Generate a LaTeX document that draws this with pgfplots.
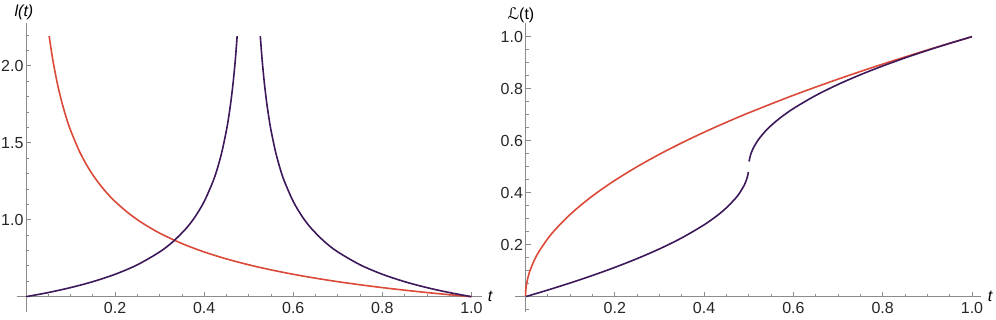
\documentclass[border=0pt]{standalone}
\usepackage{fontspec}
\setmainfont{Liberation Sans}
\newfontfamily\dejavu{DejaVu Sans}
\usepackage{pgfplots}
\pgfplotsset{compat=1.18}

\definecolor{redc}{rgb}{0.86,0.29,0.22}
\definecolor{purp}{rgb}{0.24,0.10,0.36}
\definecolor{axc}{rgb}{0.55,0.55,0.55}

\pgfplotsset{
  mma/.style={
    scale only axis,
    clip=false,
    axis x line=bottom,
    axis y line=left,
    axis line style={axc,-,line width=0.8pt},
    tick align=inside,
    major tick length=5pt,
    minor tick length=3pt,
    every tick/.style={axc,line width=0.8pt},
    tick label style={font=\fontsize{16}{19}\selectfont, text=black!85},
    xticklabel style={yshift=-2pt},
    yticklabel style={xshift=1pt},
    xtick={0.2,0.4,0.6,0.8,1.0},
    xticklabels={0.2,0.4,0.6,0.8,1.0},
    minor xtick={0.05,0.1,0.15,0.25,0.3,0.35,0.45,0.5,0.55,0.65,0.7,0.75,0.85,0.9,0.95},
    every axis plot/.append style={line width=1.6pt},
  }
}

\begin{document}
\begin{tikzpicture}
\useasboundingbox (0,0) rectangle (996pt,320pt);

% left: l(t)
\begin{axis}[mma,
  at={(26pt,23.3pt)}, anchor=south west,
  width=455.7pt, height=274.1pt,
  xmin=0, xmax=1.023, ymin=0.5, ymax=2.28,
  ytick={1.0,1.5,2.0}, yticklabels={1.0,1.5,2.0},
  minor ytick={0.6,0.7,0.8,0.9,1.1,1.2,1.3,1.4,1.6,1.7,1.8,1.9,2.1,2.2},
]
\addplot[redc,smooth] coordinates {
(0.052,2.1926) (0.06,2.0412) (0.07,1.8898) (0.08,1.7678) (0.09,1.6667)
(0.10,1.5811) (0.12,1.4434) (0.14,1.3363) (0.16,1.25) (0.18,1.1785)
(0.20,1.1180) (0.23,1.0426) (0.26,0.9806) (0.30,0.9129) (0.35,0.8452)
(0.40,0.7906) (0.45,0.7454) (0.50,0.7071) (0.55,0.6742) (0.60,0.6455)
(0.65,0.6202) (0.70,0.5976) (0.75,0.5774) (0.80,0.5590) (0.85,0.5423)
(0.90,0.5270) (0.95,0.5130) (1.00,0.5)
};
\addplot[purp,smooth] coordinates {
(0,0.5) (0.05,0.5270) (0.10,0.5590) (0.15,0.5976) (0.20,0.6455)
(0.25,0.7071) (0.30,0.7906) (0.33,0.8575) (0.36,0.9449) (0.38,1.0206)
(0.40,1.1180) (0.42,1.25) (0.43,1.3363) (0.44,1.4434) (0.45,1.5811)
(0.455,1.6667) (0.46,1.7678) (0.465,1.8898) (0.47,2.0412) (0.474,2.1926)
};
\addplot[purp,smooth] coordinates {
(0.526,2.1926) (0.53,2.0412) (0.535,1.8898) (0.54,1.7678) (0.545,1.6667)
(0.55,1.5811) (0.56,1.4434) (0.57,1.3363) (0.58,1.25) (0.60,1.1180)
(0.62,1.0206) (0.64,0.9449) (0.67,0.8575) (0.70,0.7906) (0.75,0.7071)
(0.80,0.6455) (0.85,0.5976) (0.90,0.5590) (0.95,0.5270) (1.0,0.5)
};
\draw[axc,line width=0.8pt] (axis cs:-0.021,0.5) -- (axis cs:0,0.5);
\draw[axc,line width=0.8pt] (axis cs:0,0.40) -- (axis cs:0,0.5);
\end{axis}

% right: L(t)
\begin{axis}[mma,
  at={(525.5pt,23.3pt)}, anchor=south west,
  width=455.4pt, height=273.8pt,
  xmin=0, xmax=1.02, ymin=0, ymax=1.053,
  ytick={0.2,0.4,0.6,0.8,1.0}, yticklabels={0.2,0.4,0.6,0.8,1.0},
  minor ytick={0.05,0.1,0.15,0.25,0.3,0.35,0.45,0.5,0.55,0.65,0.7,0.75,0.85,0.9,0.95},
]
\addplot[redc,smooth] coordinates {
(0,0) (0.0005,0.02236) (0.002,0.04472) (0.005,0.07071) (0.01,0.1)
(0.02,0.14142) (0.03,0.17321) (0.05,0.22361) (0.07,0.26458) (0.1,0.31623)
(0.13,0.36056) (0.16,0.4) (0.2,0.44721) (0.25,0.5) (0.3,0.54772)
(0.35,0.59161) (0.4,0.63246) (0.45,0.67082) (0.5,0.70711) (0.6,0.77460)
(0.7,0.83666) (0.8,0.89443) (0.9,0.94868) (1.0,1.0)
};
\addplot[purp,smooth] coordinates {
(0,0) (0.05,0.02566) (0.1,0.05279) (0.15,0.08167) (0.2,0.11270)
(0.25,0.14645) (0.3,0.18377) (0.35,0.22614) (0.4,0.27639) (0.43,0.31292)
(0.45,0.34189) (0.47,0.37753) (0.48,0.4) (0.49,0.42929) (0.495,0.45)
(0.498,0.46838) (0.4992,0.48)
};
\addplot[purp,smooth] coordinates {
(0.5008,0.52) (0.502,0.53162) (0.505,0.55) (0.51,0.57071) (0.52,0.6)
(0.53,0.62247) (0.54,0.64142) (0.55,0.65811) (0.57,0.68708) (0.6,0.72361)
(0.65,0.77386) (0.7,0.81623) (0.75,0.85355) (0.8,0.88730) (0.85,0.91833)
(0.9,0.94721) (0.95,0.97434) (1.0,1.0)
};
\draw[axc,line width=0.8pt] (axis cs:-0.024,0) -- (axis cs:0,0);
\draw[axc,line width=0.8pt] (axis cs:0,-0.059) -- (axis cs:0,0);
\draw[axc,line width=0.8pt] (axis cs:0,-0.05) -- ++(3pt,0);
\end{axis}

\node[font=\fontsize{16}{19}\selectfont\itshape] at (24pt,308pt) {l(t)};
\node[font=\fontsize{16}{19}\selectfont] at (521pt,305pt) {{\dejavu ℒ}(t)};
\node[font=\fontsize{16}{19}\selectfont\itshape] at (490pt,23.3pt) {t};
\node[font=\fontsize{16}{19}\selectfont\itshape] at (990pt,23.3pt) {t};
\end{tikzpicture}
\end{document}
